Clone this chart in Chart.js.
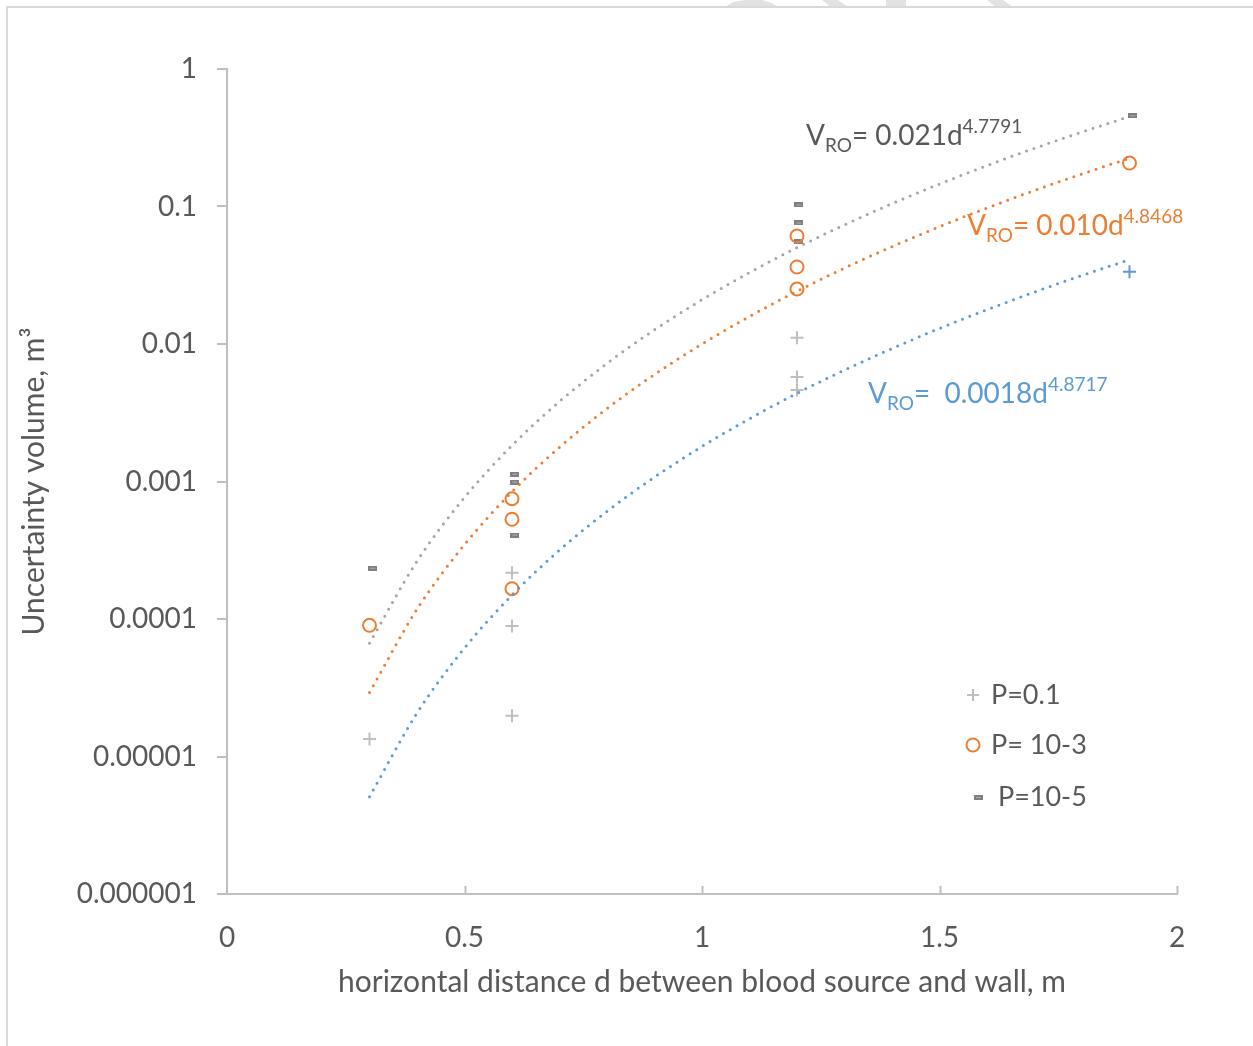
<!DOCTYPE html>
<html>
<head>
<meta charset="utf-8">
<script src="https://cdn.jsdelivr.net/npm/chart.js@4.4.1/dist/chart.umd.min.js"></script>
<style>
  html, body { margin: 0; padding: 0; background: #ffffff; }
  canvas { display: block; }
</style>
</head>
<body>
<canvas id="c" width="1253" height="1046"></canvas>
<script>
// ---- data ----
const seriesNames = ['P=0.1', 'P= 10-3', ' P=10-5'];

const p01X = [0.3, 0.6, 0.6, 0.6, 1.2, 1.2, 1.2, 1.9];
const p01Y = [1.34e-5, 2.17e-4, 8.9e-5, 1.98e-5, 0.0111, 0.00575, 0.00463, 0.0336];

const p3X = [0.3, 0.6, 0.6, 0.6, 1.2, 1.2, 1.2, 1.9];
const p3Y = [9.0e-5, 7.5e-4, 5.31e-4, 1.66e-4, 0.061, 0.0363, 0.0251, 0.207];

const p5X = [0.307, 0.606, 0.606, 0.606, 1.204, 1.204, 1.204, 1.907];
const p5Y = [2.34e-4, 1.13e-3, 9.9e-4, 4.08e-4, 0.1026, 0.0759, 0.0552, 0.457];

// trendline curves (power fits shown in the chart), sampled along d
const trendX   = [0.3, 0.4, 0.5, 0.6, 0.7, 0.8, 0.9, 1.0, 1.1, 1.2, 1.3, 1.4, 1.5, 1.6, 1.7, 1.8, 1.9];
const trendP5  = [6.66e-5, 2.633e-4, 7.65e-4, 1.828e-3, 3.819e-3, 7.23e-3, 0.01269, 0.021, 0.03312, 0.05019, 0.07357, 0.1049, 0.1458, 0.1985, 0.2652, 0.3485, 0.4512];
const trendP3  = [2.92e-5, 1.178e-4, 3.475e-4, 8.41e-4, 1.775e-3, 3.39e-3, 6.00e-3, 0.010, 0.01587, 0.0242, 0.03567, 0.05108, 0.07137, 0.09757, 0.1309, 0.1727, 0.2244];
const trendP01 = [5.10e-6, 2.07e-5, 6.15e-5, 1.494e-4, 3.17e-4, 6.07e-4, 1.077e-3, 1.8e-3, 2.86e-3, 4.38e-3, 6.46e-3, 9.27e-3, 0.01298, 0.01777, 0.02388, 0.03154, 0.04105];

const eqCoef = ['= 0.021d', '= 0.010d', '=  0.0018d'];
const eqExp  = ['4.7791', '4.8468', '4.8717'];

const yTickValues = [1e-6, 1e-5, 1e-4, 1e-3, 1e-2, 1e-1, 1];
const yTickLabels = ['0.000001', '0.00001', '0.0001', '0.001', '0.01', '0.1', '1'];
const xTickValues = [0, 0.5, 1, 1.5, 2];
const xTickLabels = ['0', '0.5', '1', '1.5', '2'];

const xTitle = 'horizontal distance d between blood source and wall, m';
const yTitle = 'Uncertainty volume, m\u00B3';

// ---- styling ----
const FONT = 'Lato, "Open Sans", sans-serif';
const TXT = '#595959';
const AXIS = '#bfbfbf';
const GREY = '#a5a5a5';
const ORANGE = '#ed7d31';
const BLUE = '#5b9bd5';

function zip(xs, ys) { return xs.map((x, i) => ({ x: x, y: ys[i] })); }

// dash marker image (Excel "dash" marker)
function dashMarker() {
  const c = document.createElement('canvas');
  c.width = 9; c.height = 5;
  const g = c.getContext('2d');
  g.fillStyle = '#7f7f7f';
  g.fillRect(0, 0, 9, 5);
  g.fillStyle = '#b0b0b0';
  g.fillRect(2, 2, 5, 1);
  return c;
}
const dashImg = dashMarker();

const p01Colors = p01X.map((x, i) => (i === p01X.length - 1 ? BLUE : AXIS));

const frame = {
  id: 'frame',
  beforeDraw(chart) {
    const ctx = chart.ctx;
    ctx.save();
    ctx.fillStyle = '#ffffff';
    ctx.fillRect(0, 0, chart.width, chart.height);
    // faint watermark fragments at the top edge
    ctx.fillStyle = '#e2e2e2';
    const polys = [
      [[725, 7], [733, 2], [745, 0], [762, 0], [772, 3], [778, 7]],
      [[822, 0], [838, 0], [848, 7], [831, 7]],
      [[886, 0], [906, 0], [906, 7], [886, 7]],
      [[987, 0], [1003, 0], [1013, 7], [996, 7]]
    ];
    polys.forEach(p => {
      ctx.beginPath();
      p.forEach((pt, i) => (i ? ctx.lineTo(pt[0], pt[1]) : ctx.moveTo(pt[0], pt[1])));
      ctx.closePath();
      ctx.fill();
    });
    ctx.strokeStyle = '#d9d9d9';
    ctx.lineWidth = 2;
    ctx.beginPath();
    ctx.moveTo(7, chart.height);
    ctx.lineTo(7, 7);
    ctx.lineTo(chart.width, 7);
    ctx.stroke();
    ctx.restore();
  },
  afterDraw(chart) {
    const ctx = chart.ctx;
    const xs = chart.scales.x;
    const ys = chart.scales.y;
    ctx.save();
    // inward x tick marks
    ctx.strokeStyle = AXIS;
    ctx.lineWidth = 2;
    xTickValues.slice(1).forEach(v => {
      const px = Math.round(xs.getPixelForValue(v)) + 0.5;
      ctx.beginPath();
      ctx.moveTo(px, ys.bottom);
      ctx.lineTo(px, ys.bottom - 8);
      ctx.stroke();
    });

    // equations
    function eq(x, y, color, coef, ex) {
      ctx.fillStyle = color;
      ctx.textBaseline = 'alphabetic';
      ctx.textAlign = 'left';
      const big = '28px ' + FONT, small = '19px ' + FONT;
      ctx.font = big; ctx.fillText('V', x, y); x += ctx.measureText('V').width;
      ctx.font = small; ctx.fillText('RO', x, y + 7); x += ctx.measureText('RO').width;
      ctx.font = big; ctx.fillText(coef, x, y); x += ctx.measureText(coef).width;
      ctx.font = small; ctx.fillText(ex, x, y - 12);
    }
    eq(806, 145, TXT, eqCoef[0], eqExp[0]);
    eq(967, 235, ORANGE, eqCoef[1], eqExp[1]);
    eq(868, 403, BLUE, eqCoef[2], eqExp[2]);

    // legend
    ctx.font = '27px ' + FONT;
    ctx.textBaseline = 'middle';
    ctx.fillStyle = TXT;
    // + marker
    ctx.strokeStyle = AXIS; ctx.lineWidth = 2;
    ctx.beginPath();
    ctx.moveTo(967, 695); ctx.lineTo(979, 695);
    ctx.moveTo(973, 689); ctx.lineTo(973, 701);
    ctx.stroke();
    ctx.fillText(seriesNames[0], 991, 695);
    // circle marker
    ctx.strokeStyle = ORANGE; ctx.lineWidth = 2;
    ctx.beginPath(); ctx.arc(973, 745, 6.5, 0, Math.PI * 2); ctx.stroke();
    ctx.fillText(seriesNames[1], 991, 745);
    // dash marker
    ctx.drawImage(dashImg, 974, 795);
    ctx.fillText(seriesNames[2], 991, 797);
    ctx.restore();
  }
};

const chart = new Chart(document.getElementById('c'), {
  type: 'scatter',
  data: {
    datasets: [
      {
        label: seriesNames[0], data: zip(p01X, p01Y), order: 3,
        pointStyle: 'cross', pointRadius: 6.5, pointHoverRadius: 6.5,
        pointBorderColor: p01Colors, pointBackgroundColor: p01Colors, pointBorderWidth: 2
      },
      {
        label: seriesNames[1], data: zip(p3X, p3Y), order: 2,
        pointStyle: 'circle', pointRadius: 6.5, pointHoverRadius: 6.5,
        pointBorderColor: ORANGE, pointBackgroundColor: 'rgba(0,0,0,0)', pointBorderWidth: 2
      },
      {
        label: seriesNames[2], data: zip(p5X, p5Y), order: 4,
        pointStyle: dashImg, pointRadius: 5
      },
      {
        type: 'line', label: 'trend P=10-5', data: zip(trendX, trendP5), order: 1,
        showLine: true, pointRadius: 0, borderColor: GREY, borderWidth: 3,
        borderDash: [0, 7.8], borderCapStyle: 'round', cubicInterpolationMode: 'monotone', fill: false
      },
      {
        type: 'line', label: 'trend P=10-3', data: zip(trendX, trendP3), order: 1,
        showLine: true, pointRadius: 0, borderColor: ORANGE, borderWidth: 3,
        borderDash: [0, 7.8], borderCapStyle: 'round', cubicInterpolationMode: 'monotone', fill: false
      },
      {
        type: 'line', label: 'trend P=0.1', data: zip(trendX, trendP01), order: 1,
        showLine: true, pointRadius: 0, borderColor: BLUE, borderWidth: 3,
        borderDash: [0, 7.8], borderCapStyle: 'round', cubicInterpolationMode: 'monotone', fill: false
      }
    ]
  },
  options: {
    responsive: false,
    animation: false,
    events: [],
    layout: { padding: { top: 69, right: 76, left: 0, bottom: 0 } },
    plugins: { legend: { display: false }, tooltip: { enabled: false } },
    scales: {
      x: {
        type: 'linear', min: 0, max: 2,
        afterFit(s) { s.height = 152; },
        afterBuildTicks(s) { s.ticks = xTickValues.map(v => ({ value: v })); },
        ticks: {
          padding: 27, color: TXT, font: { family: FONT, size: 28 },
          callback: (v, i) => xTickLabels[i]
        },
        grid: { display: false, drawTicks: false },
        border: { display: true, color: AXIS, width: 2 },
        title: {
          display: true, text: xTitle, color: TXT,
          font: { family: FONT, size: 30 }, padding: { top: 0, bottom: 46 }
        }
      },
      y: {
        type: 'logarithmic', min: 1e-6, max: 1,
        afterFit(s) { s.width = 227; },
        afterBuildTicks(s) { s.ticks = yTickValues.map(v => ({ value: v })); },
        ticks: {
          padding: 20, color: TXT, font: { family: FONT, size: 28 },
          callback: (v, i) => yTickLabels[i]
        },
        grid: { drawOnChartArea: false, drawTicks: true, tickLength: 10, color: AXIS, lineWidth: 2 },
        border: { display: true, color: AXIS, width: 2 },
        title: {
          display: true, text: yTitle, color: TXT,
          font: { family: FONT, size: 30 }, padding: { top: 16, bottom: 0 }
        }
      }
    }
  },
  plugins: [frame]
});
</script>
</body>
</html>
